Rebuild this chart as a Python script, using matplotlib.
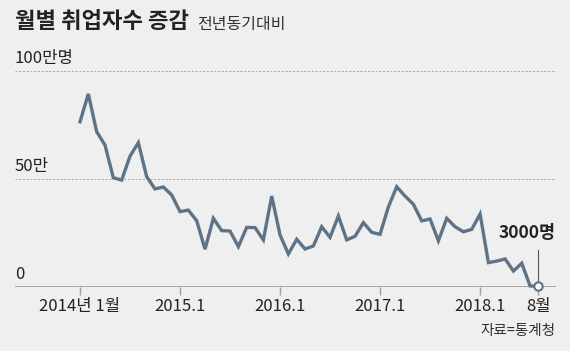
import matplotlib
matplotlib.use("Agg")
import matplotlib.pyplot as plt
import numpy as np

plt.rcParams["font.family"] = ["Noto Sans CJK KR", "DejaVu Sans"]

# 월별 취업자수 증감 (만명, 전년동기대비), 2014.1 ~ 2018.8
values = [
    76.5, 89.4, 71.9, 65.7, 50.6, 49.5, 60.6, 66.8, 51.1, 45.4, 46.3, 42.6,   # 2014
    34.9, 35.6, 30.7, 17.5, 31.8, 26.1, 25.9, 18.7, 27.6, 27.5, 21.8, 42.1,   # 2015
    24.1, 15.3, 22.1, 17.6, 19.0, 27.9, 23.0, 32.9, 21.8, 23.5, 29.8, 25.3,   # 2016
    24.4, 37.1, 46.4, 42.1, 38.3, 30.6, 31.5, 21.4, 31.8, 27.9, 25.6, 26.7,   # 2017
    33.8, 11.3, 12.0, 13.0, 7.4, 11.0, 0.5, 0.3,                             # 2018
]
tick_months = [0, 12, 24, 36, 48, 55]
tick_labels = ["2014년 1월", "2015.1", "2016.1", "2017.1", "2018.1", "8월"]
y_levels = [0, 50, 100]
y_labels = ["0", "50만", "100만명"]

BG = "#efefef"
LINE = "#5f7386"
GRID = "#9a9a9a"
TEXT = "#222222"

fig = plt.figure(figsize=(5.7, 3.51), dpi=100, facecolor=BG)
ax = fig.add_axes([0.0263, 0.1823, 0.949, 0.6154], facecolor=BG)

x = np.arange(len(values))
ax.plot(x, values, color=LINE, lw=2.4, solid_joinstyle="miter", zorder=3, clip_on=False)

# 마지막 달 강조
ax.plot([x[-1], x[-1]], [values[-1] + 2, 17], color="#555555", lw=0.8, zorder=2)
ax.plot(x[-1], values[-1], "o", ms=6, mfc="white", mec=LINE, mew=1.5, zorder=4, clip_on=False)
ax.text(x[-1] - 1.4, 21, "3000명", ha="center", va="bottom", fontsize=12.5,
        fontweight="bold", color=TEXT)

ax.set_xlim(-7.8, 57.1)
ax.set_ylim(0, 100)

# 눈금선
for lv, lab in zip(y_levels, y_labels):
    if lv == 0:
        ax.axhline(0, color="#a0a0a0", lw=2, zorder=1)
    else:
        ax.axhline(lv, color=GRID, lw=0.6, ls=(0, (2.5, 2)), zorder=1)
    ax.text(0.0, lv + 2.0, lab, transform=ax.get_yaxis_transform(), ha="left",
            va="bottom", fontsize=12, color=TEXT)

for s in ax.spines.values():
    s.set_visible(False)
ax.set_yticks([])
ax.set_xticks(tick_months)
ax.set_xticklabels(tick_labels, fontsize=12, color=TEXT)
ax.tick_params(axis="x", length=6, width=1, color="#a0a0a0", pad=2)

title = fig.text(0.0263, 0.92, "월별 취업자수 증감", fontsize=16, fontweight="bold",
                 color=TEXT, ha="left", va="baseline")
# 부제는 제목 바로 오른쪽에
ax.annotate("전년동기대비", xy=(1, 0), xycoords=title, xytext=(6, 0),
            textcoords="offset points", fontsize=11.5, color="#333333",
            ha="left", va="bottom", annotation_clip=False)
fig.text(0.975, 0.045, "자료=통계청", fontsize=10.5, color="#333333",
         ha="right", va="baseline")

fig.savefig("out.png", dpi=100, facecolor=BG)
